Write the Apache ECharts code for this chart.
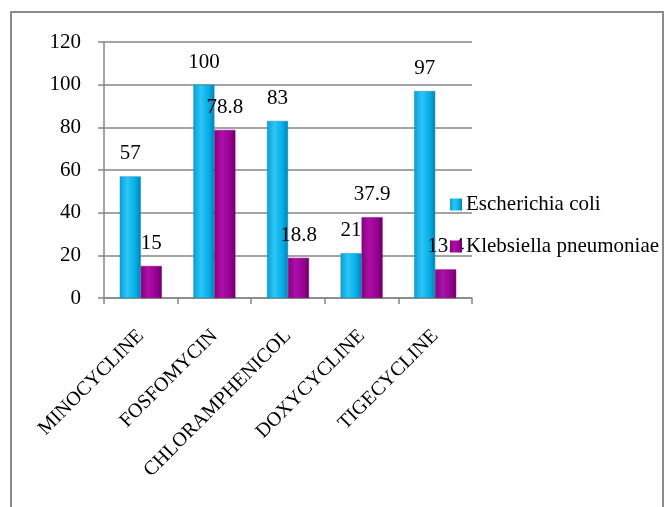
<!DOCTYPE html>
<html>
<head>
<meta charset="utf-8">
<script src="https://cdn.jsdelivr.net/npm/echarts@6/dist/echarts.min.js"></script>
<style>
  html, body { margin: 0; padding: 0; background: #fff; }
  #main { width: 666px; height: 507px; }
</style>
</head>
<body>
<div id="main"></div>
<script>
// data
var drugs = ['MINOCYCLINE', 'FOSFOMYCIN', 'CHLORAMPHENICOL', 'DOXYCYCLINE', 'TIGECYCLINE']
var ecoli = [57, 100, 83, 21, 97]
var kleb = [15, 78.8, 18.8, 37.9, 13.4]
var yTicks = [0, 20, 40, 60, 80, 100, 120]

var serif = '"Liberation Serif", "Times New Roman", serif'

var blueFill = new echarts.graphic.LinearGradient(0, 0, 1, 0, [
    { offset: 0, color: '#0a9fd6' },
    { offset: 0.35, color: '#2cc6f6' },
    { offset: 0.75, color: '#04ace6' },
    { offset: 1, color: '#0580b0' }
])
var purpleFill = new echarts.graphic.LinearGradient(0, 0, 1, 0, [
    { offset: 0, color: '#85007f' },
    { offset: 0.35, color: '#ad10a8' },
    { offset: 0.75, color: '#960090' },
    { offset: 1, color: '#6a0066' }
])

var chart = echarts.init(document.getElementById('main'))
chart.setOption({
    animation: false,
    backgroundColor: '#fff',
    textStyle: { fontFamily: serif },
    graphic: [{
        type: 'rect',
        shape: { x: 11, y: 12, width: 652, height: 520 },
        style: { fill: 'none', stroke: '#8a8a8a', lineWidth: 2 },
        silent: true
    }],
    grid: { left: 104, right: 194, top: 42, bottom: 209 },
    legend: {
        orient: 'vertical',
        left: 450,
        top: 194,
        padding: 0,
        itemGap: 21,
        itemWidth: 12,
        itemHeight: 12,
        icon: 'rect',
        itemStyle: { borderWidth: 0 },
        textStyle: { fontFamily: serif, fontSize: 21, color: '#000', padding: [0, 0, 0, -1] },
        data: ['Escherichia coli', 'Klebsiella pneumoniae']
    },
    xAxis: {
        type: 'category',
        data: drugs,
        axisLine: { lineStyle: { color: '#868686', width: 1.5 } },
        axisTick: { show: true, length: 6, lineStyle: { color: '#868686', width: 1.5 } },
        axisLabel: {
            rotate: 45,
            interval: 0,
            margin: 35,
            padding: [16, 0, 0, 0],
            fontFamily: serif,
            fontSize: 20,
            color: '#000'
        }
    },
    yAxis: {
        type: 'value',
        min: 0,
        max: 120,
        interval: 20,
        axisLine: { show: true, lineStyle: { color: '#868686', width: 1.5 } },
        axisTick: { show: true, length: 6, lineStyle: { color: '#868686', width: 1.5 } },
        splitLine: { lineStyle: { color: '#868686', width: 1.5 } },
        axisLabel: {
            margin: 23,
            fontFamily: serif,
            fontSize: 21,
            color: '#000',
            formatter: function (v) { return yTicks.indexOf(v) >= 0 ? String(v) : '' }
        }
    },
    series: [
        {
            name: 'Escherichia coli',
            type: 'bar',
            data: ecoli,
            barWidth: 21,
            barGap: '0%',
            itemStyle: { color: blueFill, borderColor: '#0a8cc0', borderWidth: 0.5 },
            label: {
                show: true,
                position: 'top',
                distance: 12,
                fontFamily: serif,
                fontSize: 21,
                color: '#000'
            }
        },
        {
            name: 'Klebsiella pneumoniae',
            type: 'bar',
            data: kleb,
            barWidth: 21,
            barGap: '0%',
            itemStyle: { color: purpleFill, borderColor: '#7a0076', borderWidth: 0.5 },
            label: {
                show: true,
                position: 'top',
                distance: 12,
                fontFamily: serif,
                fontSize: 21,
                color: '#000'
            }
        }
    ]
})
</script>
</body>
</html>
